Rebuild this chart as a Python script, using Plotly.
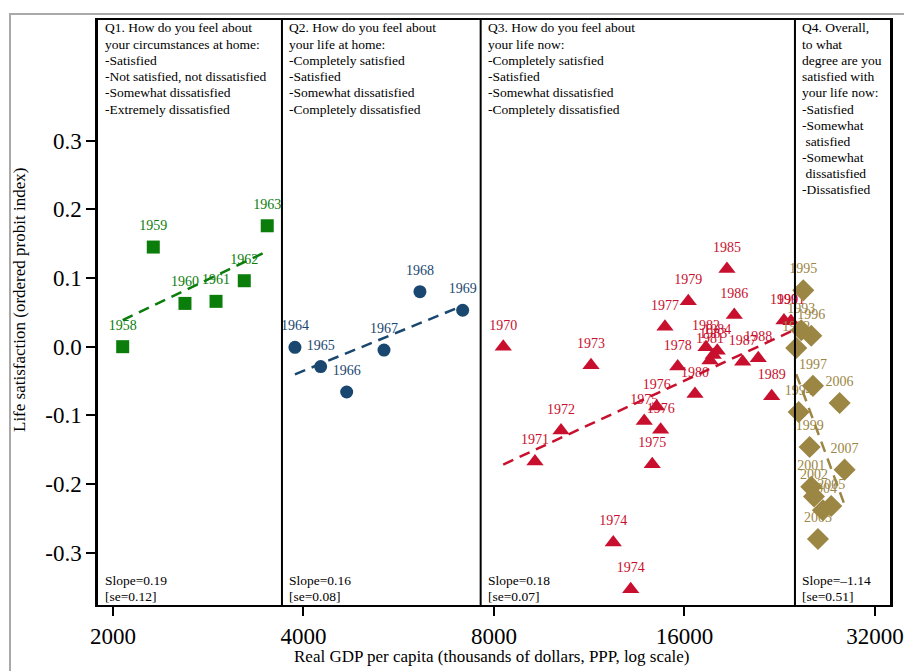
import numpy as np
import plotly.graph_objects as go

# ---------------- data ----------------
q1_years = ["1958", "1959", "1960", "1961", "1962", "1963"]
q1_gdp = [2072, 2316, 2599, 2910, 3225, 3506]
q1_ls = [0.000, 0.145, 0.063, 0.066, 0.096, 0.176]

q2_years = ["1964", "1965", "1966", "1967", "1968", "1969"]
q2_gdp = [3878, 4258, 4681, 5362, 6111, 7139]
q2_ls = [-0.001, -0.029, -0.066, -0.005, 0.080, 0.053]

q3_years = ["1970", "1971", "1972", "1973", "1974", "1974", "1975", "1975",
            "1976", "1976", "1977", "1978", "1979", "1980", "1981", "1982",
            "1983", "1984", "1985", "1986", "1987", "1988", "1989", "1990", "1991"]
q3_gdp = [8275, 9287, 10210, 11388, 12348, 13158, 14230, 13822,
          14460, 14672, 14904, 15610, 16224, 16624, 17556, 17302,
          17768, 18028, 18676, 19180, 19776, 20930, 21976, 22982, 23574]
q3_ls = [0.000, -0.167, -0.122, -0.027, -0.285, -0.353, -0.171, -0.108,
         -0.087, -0.121, 0.029, -0.029, 0.066, -0.069, -0.020, -0.001,
         -0.012, -0.006, 0.113, 0.046, -0.022, -0.017, -0.072, 0.038, 0.037]

q4_years = ["1992", "1993", "1994", "1995", "1996", "1997", "1999", "2001",
            "2002", "2003", "2004", "2005", "2006", "2007"]
q4_gdp = [24032, 24474, 24244, 24654, 25380, 25538, 25232, 25380,
          25632, 26006, 26482, 27290, 28138, 28654]
q4_ls = [-0.002, 0.024, -0.095, 0.082, 0.016, -0.057, -0.146, -0.204,
         -0.218, -0.280, -0.238, -0.232, -0.082, -0.179]

panel_breaks = [3699, 7622, 23918]

q_texts = [
    ["Q1. How do you feel about", "your circumstances at home:", "-Satisfied",
     "-Not satisfied, not dissatisfied", "-Somewhat dissatisfied", "-Extremely dissatisfied"],
    ["Q2. How do you feel about", "your life at home:", "-Completely satisfied",
     "-Satisfied", "-Somewhat dissatisfied", "-Completely dissatisfied"],
    ["Q3. How do you feel about", "your life now:", "-Completely satisfied",
     "-Satisfied", "-Somewhat dissatisfied", "-Completely dissatisfied"],
    ["Q4. Overall,", "to what", "degree are you", "satisfied with", "your life now:",
     "-Satisfied", "-Somewhat", "\u00a0satisfied", "-Somewhat", "\u00a0dissatisfied", "-Dissatisfied"],
]
slope_texts = [("Slope=0.19", "[se=0.12]"), ("Slope=0.16", "[se=0.08]"),
               ("Slope=0.18", "[se=0.07]"), ("Slope=\u20131.14", "[se=0.51]")]

x_ticks = [2000, 4000, 8000, 16000, 32000]
y_ticks = [-0.3, -0.2, -0.1, 0.0, 0.1, 0.2, 0.3]
y_ticktext = ["-0.3", "-0.2", "-0.1", "0.0", "0.1", "0.2", "0.3"]

# ---------------- layout geometry ----------------
W, H = 904, 671
L, R, T, B = 98, 890, 20, 605
XR = [np.log10(1894), np.log10(33800)]
YR = [-0.376, 0.4755]
FONT = "Liberation Serif, Times New Roman, serif"

def pxx(px):
    return (px - L) / (R - L)

def pxy(py):
    return (B - py) / (B - T)

def paper_of_gdp(v):
    return (np.log10(v) - XR[0]) / (XR[1] - XR[0])

colors = ["#0a7d0a", "#1a476f", "#c8102e", "#9c8644"]
symbols = ["square", "circle", "triangle-up", "diamond"]
sizes = [13, 13, 15, 17]

series = [(q1_years, q1_gdp, q1_ls), (q2_years, q2_gdp, q2_ls),
          (q3_years, q3_gdp, q3_ls), (q4_years, q4_gdp, q4_ls)]

fig = go.Figure()

for i, (yrs, gdp, ls) in enumerate(series):
    gx = np.array(gdp, dtype=float)
    gy = np.array(ls, dtype=float)
    lx = np.log(gx)
    b, a = np.polyfit(lx, gy, 1)
    fx = np.array([gx.min(), gx.max()])
    fy = a + b * np.log(fx)
    fig.add_trace(go.Scatter(x=fx, y=fy, mode="lines",
                             line=dict(color=colors[i], width=2.5, dash="11px,7px"),
                             hoverinfo="skip"))
    fig.add_trace(go.Scatter(x=gdp, y=ls, mode="markers",
                             marker=dict(symbol=symbols[i], size=sizes[i], color=colors[i],
                                         line=dict(width=0))))
    fig.add_trace(go.Scatter(x=gdp, y=ls, mode="markers+text", text=yrs,
                             textposition="top center",
                             textfont=dict(family=FONT, size=14, color=colors[i]),
                             marker=dict(size=20, color="rgba(0,0,0,0)"),
                             hoverinfo="skip", cliponaxis=False))

shapes = []
for bk in panel_breaks:
    p = paper_of_gdp(bk)
    shapes.append(dict(type="line", xref="paper", yref="paper", x0=p, x1=p, y0=0, y1=1,
                       line=dict(color="black", width=2)))
# grey outer frame
shapes.append(dict(type="rect", xref="paper", yref="paper",
                   x0=pxx(10), x1=pxx(930), y0=pxy(14), y1=pxy(700),
                   line=dict(color="#a9a9a9", width=2), layer="below"))

annotations = []
panel_lefts = [L] + [L + paper_of_gdp(bk) * (R - L) for bk in panel_breaks]
line_gap = 16.2
for i, lines in enumerate(q_texts):
    x0 = panel_lefts[i] + 5
    for j, t in enumerate(lines):
        annotations.append(dict(xref="paper", yref="paper", x=pxx(x0), y=pxy(28 + j * line_gap),
                                text=t, showarrow=False, xanchor="left", yanchor="middle",
                                font=dict(family=FONT, size=13.5, color="black")))
    s1, s2 = slope_texts[i]
    annotations.append(dict(xref="paper", yref="paper", x=pxx(x0), y=pxy(580), text=s1,
                            showarrow=False, xanchor="left", yanchor="middle",
                            font=dict(family=FONT, size=13.5, color="black")))
    annotations.append(dict(xref="paper", yref="paper", x=pxx(x0), y=pxy(596), text=s2,
                            showarrow=False, xanchor="left", yanchor="middle",
                            font=dict(family=FONT, size=13.5, color="black")))

annotations.append(dict(xref="paper", yref="paper", x=pxx(492), y=pxy(656),
                        text="Real GDP per capita (thousands of dollars, PPP, log scale)",
                        showarrow=False, xanchor="center", yanchor="middle",
                        font=dict(family=FONT, size=17, color="black")))
annotations.append(dict(xref="paper", yref="paper", x=pxx(19), y=pxy(300),
                        text="Life satisfaction (ordered probit index)", textangle=-90,
                        showarrow=False, xanchor="center", yanchor="middle",
                        font=dict(family=FONT, size=17, color="black")))

fig.update_layout(
    width=W, height=H,
    margin=dict(l=L, r=W - R, t=T, b=H - B, autoexpand=False),
    paper_bgcolor="white", plot_bgcolor="white",
    showlegend=False,
    shapes=shapes, annotations=annotations,
    xaxis=dict(type="log", range=XR, tickvals=x_ticks, ticktext=[str(v) for v in x_ticks],
               ticks="outside", ticklen=9, tickwidth=2, tickcolor="black",
               showline=True, linewidth=2, linecolor="black", mirror=True,
               showgrid=False, zeroline=False,
               tickfont=dict(family=FONT, size=23, color="black")),
    yaxis=dict(range=YR, tickvals=y_ticks, ticktext=y_ticktext,
               ticks="outside", ticklen=9, tickwidth=2, tickcolor="black",
               showline=True, linewidth=2.5, linecolor="black", mirror=True,
               showgrid=False, zeroline=False,
               tickfont=dict(family=FONT, size=23, color="black")),
)

fig.write_html("out.html", config={"displayModeBar": False},
               post_script="document.body.style.margin='0';document.body.style.overflow='hidden';")
